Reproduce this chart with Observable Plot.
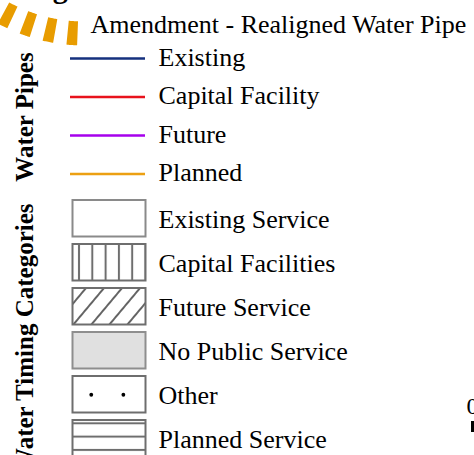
<!DOCTYPE html>
<html>
<head>
<meta charset="utf-8">
<script src="https://cdn.jsdelivr.net/npm/d3@7"></script>
<script src="https://cdn.jsdelivr.net/npm/@observablehq/plot@0.6"></script>
<style>
  html, body { margin: 0; padding: 0; background: #fff; }
  svg { display: block; }
</style>
</head>
<body>
<div id="chart"></div>
<script>
// ---- data ----
const legendTitle = "Legend";
const amendmentLabel = "Amendment - Realigned Water Pipe";
const pipeGroupLabel = "Water Pipes";
const pipeCategories = ["Existing", "Capital Facility", "Future", "Planned"];
const pipeColors = ["#15307e", "#e8121c", "#a600ec", "#eca012"];
const timingGroupLabel = "Water Timing Categories";
const timingCategories = ["Existing Service", "Capital Facilities", "Future Service", "No Public Service", "Other", "Planned Service"];
const timingSymbols = ["empty", "vertical", "diagonal", "gray", "dots", "horizontal"];
const scaleLabel = "0";
const amendmentColor = "#e89c00";

// ---- layout (drawing only) ----
const W = 474, H = 455;
const serif = "'Liberation Serif', 'Times New Roman', serif";
const fs = 26;
const pipeY0 = 58, pipeStep = 38.5;
const boxY0 = 200, boxStep = 44, boxH = 36.5;
const boxX1 = 72.5, boxX2 = 145.5;
const labelX = 158;

const pipeRows = pipeCategories.map((name, i) => ({name, color: pipeColors[i], y: pipeY0 + i * pipeStep}));
const boxRows = timingCategories.map((name, i) => ({name, kind: timingSymbols[i], y1: boxY0 + i * boxStep, y2: boxY0 + i * boxStep + boxH}));

const fillFor = {empty: "#ffffff", vertical: "url(#pv)", diagonal: "url(#pd)", gray: "#e0e0e0", dots: "#ffffff", horizontal: "url(#ph)"};
const strokeFor = {empty: "#8a8a8a", vertical: "#6e6e6e", diagonal: "#6e6e6e", gray: "#8e8e8e", dots: "#6e6e6e", horizontal: "#6e6e6e"};

// amendment symbol: a thick dashed arc (bottom of a large circle)
const arcR = 170, arcCx = 84, arcCy = 33 - 170;
const arc = d3.range(3, 84, 1).map(x => ({x, y: arcCy + Math.sqrt(arcR * arcR - (x - arcCx) * (x - arcCx))}));

const dotsRow = boxRows.find(d => d.kind === "dots");
const dotPts = [0.25, 0.69].map(f => ({x: boxX1 + f * (boxX2 - boxX1), y: (dotsRow.y1 + dotsRow.y2) / 2}));

const chart = Plot.plot({
  width: W, height: H, margin: 0,
  x: {domain: [0, W], range: [0, W], axis: null},
  y: {domain: [0, H], range: [0, H], axis: null},
  color: {type: "identity"},
  style: {background: "#fff"},
  marks: [
    Plot.line(arc, {x: "x", y: "y", stroke: amendmentColor, strokeWidth: 24, strokeDasharray: "10,12.5", strokeLinecap: "butt"}),
    Plot.text([legendTitle], {x: () => 19, y: () => -2.5, text: d => d, textAnchor: "start", lineAnchor: "bottom", fontFamily: serif, fontWeight: "bold", fontSize: 30, fill: "#000"}),
    Plot.text([amendmentLabel], {x: () => 90, y: () => 32.5, text: d => d, textAnchor: "start", lineAnchor: "bottom", fontFamily: serif, fontSize: fs, fill: "#000"}),
    Plot.ruleY(pipeRows, {y: "y", x1: () => 70, x2: () => 145, stroke: "color", strokeWidth: 2.4}),
    Plot.text(pipeRows, {x: () => labelX, y: d => d.y + 7, text: "name", textAnchor: "start", lineAnchor: "bottom", fontFamily: serif, fontSize: fs, fill: "#000"}),
    Plot.text([pipeGroupLabel], {x: () => 24, y: () => 116.5, text: d => d, rotate: -90, textAnchor: "middle", lineAnchor: "middle", fontFamily: serif, fontWeight: "bold", fontSize: 25, fill: "#000"}),
    Plot.rect(boxRows, {x1: () => boxX1, x2: () => boxX2, y1: "y1", y2: "y2", fill: d => fillFor[d.kind], stroke: d => strokeFor[d.kind], strokeWidth: 2}),
    Plot.dot(dotPts, {x: "x", y: "y", r: 1.9, fill: "#000", stroke: "none"}),
    Plot.text(boxRows, {x: () => labelX, y: d => (d.y1 + d.y2) / 2 + 9.5, text: "name", textAnchor: "start", lineAnchor: "bottom", fontFamily: serif, fontSize: fs, fill: "#000"}),
    Plot.text([timingGroupLabel], {x: () => 24, y: () => 203, text: d => d, rotate: -90, textAnchor: "end", lineAnchor: "middle", fontFamily: serif, fontWeight: "bold", fontSize: 25, fill: "#000"}),
    Plot.text([scaleLabel], {x: () => 466, y: () => 413, text: d => d, textAnchor: "start", lineAnchor: "bottom", fontFamily: serif, fontSize: 24, fill: "#000"}),
    Plot.rect([scaleLabel], {x1: () => 471, x2: () => 478, y1: () => 421, y2: () => 432, fill: "#000"})
  ]
});

chart.insertAdjacentHTML("afterbegin", `
<defs>
  <pattern id="pv" patternUnits="userSpaceOnUse" x="72.35" y="0" width="13.3" height="10">
    <rect width="13.3" height="10" fill="#fff"/>
    <line x1="6.65" y1="0" x2="6.65" y2="10" stroke="#6e6e6e" stroke-width="2"/>
  </pattern>
  <pattern id="pd" patternUnits="userSpaceOnUse" x="0" y="0" width="13.8" height="10" patternTransform="translate(82,325) rotate(40)">
    <rect width="13.8" height="10" fill="#fff"/>
    <line x1="6.9" y1="0" x2="6.9" y2="10" stroke="#555" stroke-width="1.8"/>
  </pattern>
  <pattern id="ph" patternUnits="userSpaceOnUse" x="0" y="416.65" width="10" height="13.3">
    <rect width="10" height="13.3" fill="#fff"/>
    <line x1="0" y1="6.65" x2="10" y2="6.65" stroke="#6e6e6e" stroke-width="2"/>
  </pattern>
</defs>`);

document.getElementById("chart").appendChild(chart);
</script>
</body>
</html>
